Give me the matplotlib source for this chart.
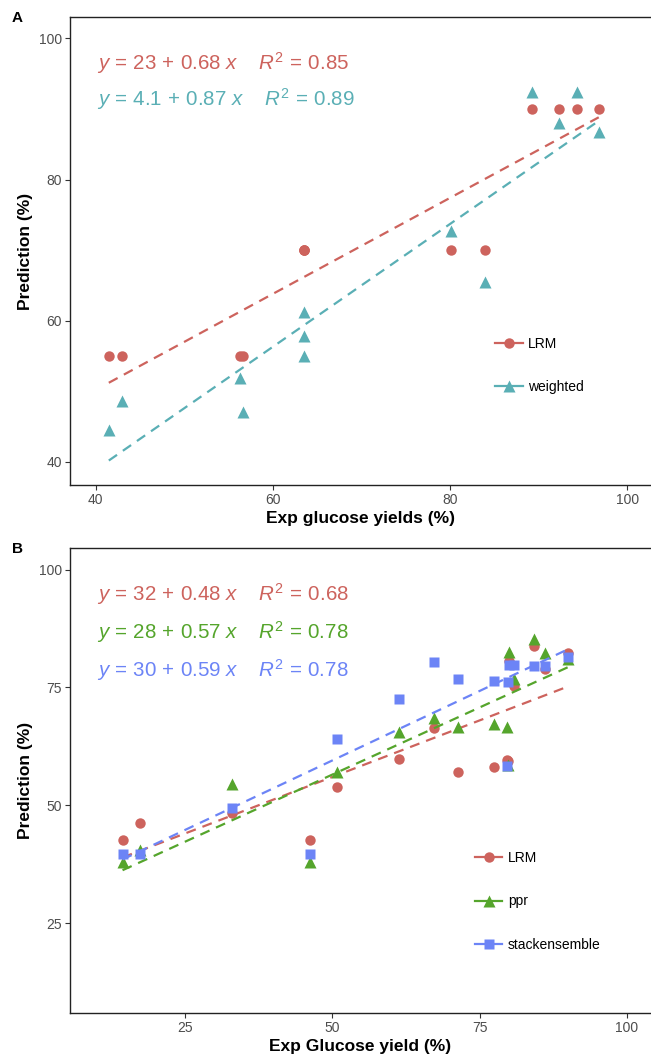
import matplotlib.pyplot as plt
from matplotlib.lines import Line2D
import numpy as np

plt.rcParams['font.family'] = ['Liberation Sans', 'DejaVu Sans']
plt.rcParams['mathtext.fontset'] = 'custom'
plt.rcParams['mathtext.rm'] = 'Liberation Sans'
plt.rcParams['mathtext.it'] = 'Liberation Sans:italic'

# panel A data
a_x = [41.5, 43.0, 56.3, 56.7, 63.5, 63.5, 63.5, 80.1, 84.0, 89.3, 92.3, 94.3, 96.8]
a_lrm = [55, 55, 55, 55, 70, 70, 70, 70, 70, 90, 90, 90, 90]
a_weighted = [44.5, 48.6, 51.9, 47.1, 61.2, 57.8, 55.0, 72.7, 65.5, 92.4, 88.0, 92.4, 86.8]
a_names = ['LRM', 'weighted']
a_icpt = [23, 4.1]
a_slope = [0.68, 0.87]
a_eqs = [r'$\mathit{y}\,=\,23\,+\,0.68\ \mathit{x}\quad\ \mathit{R}^2\,=\,0.85$',
         r'$\mathit{y}\,=\,4.1\,+\,0.87\ \mathit{x}\quad\ \mathit{R}^2\,=\,0.89$']

# panel B data
b_x = [14.4, 17.4, 33.0, 46.3, 50.8, 61.3, 67.3, 71.4, 77.5, 79.6, 80.0, 80.8, 79.9, 84.2, 86.1, 90.0]
b_lrm = [42.7, 46.2, 48.3, 42.7, 53.9, 59.8, 66.4, 57.0, 58.1, 59.7, 80.7, 75.3, 59.3, 83.8, 78.9, 82.4]
b_ppr = [38.0, 40.5, 54.5, 38.0, 57.0, 65.5, 68.5, 66.6, 67.2, 66.7, 82.5, 76.9, 58.5, 85.2, 82.4, 81.0]
b_stack = [39.7, 39.7, 49.5, 39.7, 64.1, 72.6, 80.4, 76.8, 76.4, 58.3, 79.8, 79.8, 76.2, 79.6, 79.6, 81.5]
b_names = ['LRM', 'ppr', 'stackensemble']
b_icpt = [32, 28, 30]
b_slope = [0.48, 0.57, 0.59]
b_eqs = [r'$\mathit{y}\,=\,32\,+\,0.48\ \mathit{x}\quad\ \mathit{R}^2\,=\,0.68$',
         r'$\mathit{y}\,=\,28\,+\,0.57\ \mathit{x}\quad\ \mathit{R}^2\,=\,0.78$',
         r'$\mathit{y}\,=\,30\,+\,0.59\ \mathit{x}\quad\ \mathit{R}^2\,=\,0.78$']

red = '#CD635D'
teal = '#5AAFB5'
green = '#55A52C'
blue = '#6C84F6'

fig = plt.figure(figsize=(6.51, 10.59), dpi=100)
W, H = 651, 1059
axA = fig.add_axes([70 / W, 1 - 485 / H, 581 / W, 468 / H])
axB = fig.add_axes([70 / W, 1 - 1013 / H, 581 / W, 465 / H])


def style(ax):
    ax.spines['right'].set_visible(False)
    for s in ['left', 'bottom', 'top']:
        ax.spines[s].set_linewidth(1.0)
        ax.spines[s].set_color('#222222')
    ax.tick_params(direction='out', length=3.5, width=0.8, color='#333333',
                   labelcolor='#4D4D4D', labelsize=10, pad=2.5)


def draw(ax, x, ys, names, colors, markers, sizes, icpt, slope, eqs, eq_y):
    x = np.array(x)
    xs = np.array([x.min(), x.max()])
    for y, c, m, s, b0, b1 in zip(ys, colors, markers, sizes, icpt, slope):
        ax.plot(xs, b0 + b1 * xs, color=c, lw=1.6, dashes=(4.5, 3.2))
        ax.plot(x, y, ls='none', marker=m, ms=s, color=c, mec='none')
    for e, c, yy in zip(eqs, colors, eq_y):
        ax.text(0.046, yy, e, transform=ax.transAxes, color=c, fontsize=14.8,
                va='center', ha='left')
    handles = [Line2D([0], [0], color=c, lw=1.6, marker=m, ms=s, mec='none')
               for c, m, s in zip(colors, markers, sizes)]
    return handles


hA = draw(axA, a_x, [a_lrm, a_weighted], a_names, [red, teal], ['o', '^'], [7.5, 8.5],
          a_icpt, a_slope, a_eqs, [0.902, 0.825])
axA.set_xlim(37.12, 102.7)
axA.set_ylim(36.74, 103.03)
axA.set_xticks([40, 60, 80, 100])
axA.set_yticks([40, 60, 80, 100])
style(axA)
axA.set_xlabel('Exp glucose yields (%)', fontsize=12.5, fontweight='bold', labelpad=3)
axA.set_ylabel('Prediction (%)', fontsize=12.5, fontweight='bold', labelpad=4)
axA.legend(hA, a_names, frameon=False, loc='center left', bbox_to_anchor=(0.71, 0.255),
           fontsize=10, labelspacing=2.1, handlelength=2.0, handletextpad=0.4)

hB = draw(axB, b_x, [b_lrm, b_ppr, b_stack], b_names, [red, green, blue], ['o', '^', 's'],
          [7.5, 8.5, 7], b_icpt, b_slope, b_eqs, [0.901, 0.819, 0.738])
axB.set_xlim(5.48, 104.1)
axB.set_ylim(5.9, 104.6)
axB.set_xticks([25, 50, 75, 100])
axB.set_yticks([25, 50, 75, 100])
style(axB)
axB.set_xlabel('Exp Glucose yield (%)', fontsize=12.5, fontweight='bold', labelpad=3)
axB.set_ylabel('Prediction (%)', fontsize=12.5, fontweight='bold', labelpad=4)
axB.legend(hB, b_names, frameon=False, loc='center left', bbox_to_anchor=(0.675, 0.24),
           fontsize=10, labelspacing=2.1, handlelength=2.0, handletextpad=0.4)

fig.text(12 / W, 1 - 18 / H, 'A', fontsize=11, fontweight='bold', va='center')
fig.text(12 / W, 1 - 549 / H, 'B', fontsize=11, fontweight='bold', va='center')

fig.savefig('out.png', dpi=100)
